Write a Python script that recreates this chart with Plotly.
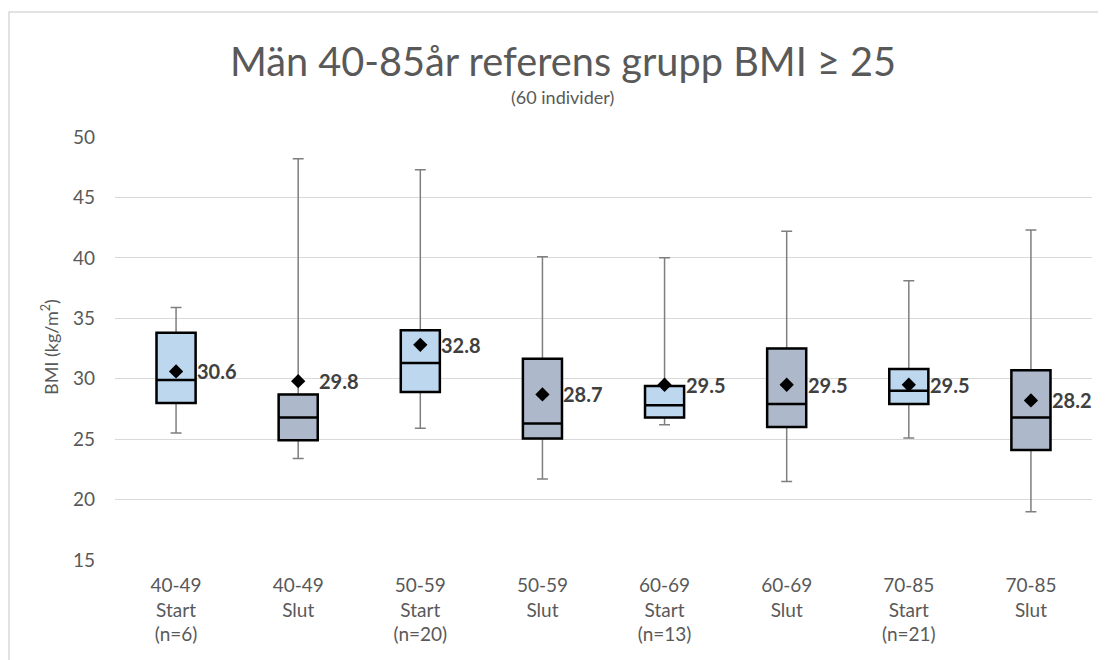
import plotly.graph_objects as go

categories = ["40-49<br>Start<br>(n=6)", "40-49<br>Slut", "50-59<br>Start<br>(n=20)", "50-59<br>Slut",
              "60-69<br>Start<br>(n=13)", "60-69<br>Slut", "70-85<br>Start<br>(n=21)", "70-85<br>Slut"]
group = ["Start", "Slut", "Start", "Slut", "Start", "Slut", "Start", "Slut"]
whisker_low = [25.5, 23.4, 25.9, 21.7, 26.2, 21.5, 25.1, 19.0]
q1 = [28.0, 24.9, 28.9, 25.05, 26.8, 26.0, 27.9, 24.1]
median = [29.9, 26.8, 31.3, 26.3, 27.8, 27.9, 29.0, 26.8]
q3 = [33.8, 28.7, 34.0, 31.65, 29.4, 32.5, 30.8, 30.7]
whisker_high = [35.9, 48.2, 47.3, 40.1, 40.0, 42.2, 38.1, 42.3]
mean = [30.6, 29.8, 32.8, 28.7, 29.5, 29.5, 29.5, 28.2]
mean_labels = ["30.6", "29.8", "32.8", "28.7", "29.5", "29.5", "29.5", "28.2"]

fill_colors = {"Start": "#BDD7EE", "Slut": "#ADB9CA"}
FONT = "Lato"
TXT = "#595959"

# page body has an 8px margin: compensate so the plot lands where the reference has it
OFF = 8
W, H = 1106, 660
L, T = 115 - OFF, 137 - OFF
pw, ph = 977, 423
R = W - L - pw
B = H - T - ph


def px_x(x):
    return (x - OFF - L) / pw


def px_y(y):
    return 1 + (T - (y - OFF)) / ph


fig = go.Figure()

for g in ["Start", "Slut"]:
    idx = [i for i, v in enumerate(group) if v == g]
    xs = [categories[i] for i in idx]
    # whiskers (gray)
    fig.add_trace(go.Box(
        x=xs,
        q1=[q1[i] for i in idx], median=[median[i] for i in idx], q3=[q3[i] for i in idx],
        lowerfence=[whisker_low[i] for i in idx], upperfence=[whisker_high[i] for i in idx],
        width=0.32, whiskerwidth=0.28,
        line=dict(color="#7f7f7f", width=1.5),
        fillcolor=fill_colors[g], boxpoints=False, showlegend=False, hoverinfo="skip",
    ))
    # box body (black outline)
    fig.add_trace(go.Box(
        x=xs,
        q1=[q1[i] for i in idx], median=[median[i] for i in idx], q3=[q3[i] for i in idx],
        lowerfence=[q1[i] for i in idx], upperfence=[q3[i] for i in idx],
        width=0.32, whiskerwidth=0,
        line=dict(color="#000000", width=2.5),
        fillcolor=fill_colors[g], boxpoints=False, showlegend=False,
    ))

fig.add_trace(go.Scatter(
    x=categories, y=mean, mode="markers",
    marker=dict(symbol="diamond", size=11, color="#000000"),
    showlegend=False,
))

annotations = []
for c, m, lab in zip(categories, mean, mean_labels):
    annotations.append(dict(x=c, y=m, xref="x", yref="y", text="<b>" + lab + "</b>",
                            showarrow=False, xanchor="left", yanchor="middle", xshift=19,
                            font=dict(family=FONT, size=20, color="#404040")))

annotations.append(dict(x=px_x(563), y=px_y(60), xref="paper", yref="paper",
                        text="Män 40-85år referens grupp BMI ≥ 25", xanchor="center", yanchor="middle",
                        showarrow=False, font=dict(family=FONT, size=39.7, color=TXT)))
annotations.append(dict(x=px_x(562), y=px_y(97), xref="paper", yref="paper",
                        text="(60 individer)", xanchor="center", yanchor="middle",
                        showarrow=False, font=dict(family=FONT, size=18, color=TXT)))
annotations.append(dict(x=px_x(50), y=px_y(347), xref="paper", yref="paper",
                        text="BMI (kg/m<sup>2</sup>)", textangle=-90, xanchor="center", yanchor="middle",
                        showarrow=False, font=dict(family=FONT, size=18, color=TXT)))

fig.update_layout(
    width=W, height=H,
    margin=dict(l=L, r=R, t=T, b=B, autoexpand=False),
    paper_bgcolor="white", plot_bgcolor="white",
    boxmode="overlay",
    annotations=annotations,
    shapes=[dict(type="rect", xref="paper", yref="paper",
                 x0=px_x(9), x1=1.2, y0=-0.5, y1=px_y(12),
                 line=dict(color="#d9d9d9", width=1.5), fillcolor="rgba(0,0,0,0)")],
    font=dict(family=FONT, color=TXT),
)
fig.update_xaxes(type="category", categoryorder="array", categoryarray=categories,
                 showgrid=False, showline=False, ticks="", zeroline=False, automargin=False,
                 ticklabelstandoff=12,
                 tickfont=dict(family=FONT, size=19, color=TXT), range=[-0.5, 7.5])
fig.update_yaxes(range=[15, 50], dtick=5, tick0=15, showgrid=True, gridcolor="#d9d9d9", gridwidth=1,
                 zeroline=False, showline=False, ticks="", automargin=False,
                 ticklabelstandoff=19,
                 tickfont=dict(family=FONT, size=19, color=TXT))

fig.write_html("out.html")
